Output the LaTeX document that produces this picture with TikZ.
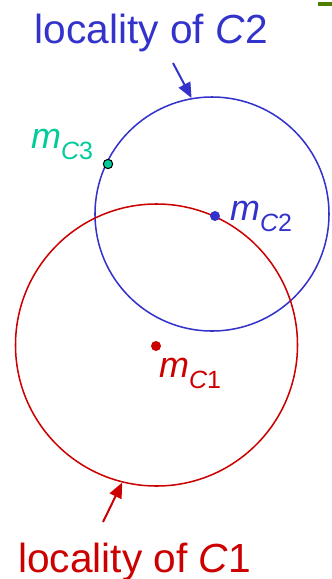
\documentclass[tikz,border=0pt]{standalone}
\usepackage{fontspec}
\setmainfont{Liberation Sans}
\usetikzlibrary{arrows.meta}
\definecolor{locblue}{RGB}{51,51,204}
\definecolor{locred}{RGB}{204,0,0}
\definecolor{locgreen}{RGB}{0,204,153}
\definecolor{bargreen}{RGB}{77,128,0}
\newcommand{\mlab}[1]{{\fontsize{30.7}{31}\selectfont\itshape m}\raisebox{-10pt}{\fontsize{21.3}{22}\selectfont\itshape C\upshape #1}}

\begin{document}
\begin{tikzpicture}[
    x=0.03cm, y=-0.03cm,
    locality/.style={draw, circle, inner sep=0pt, line width=1.3pt},
    centre/.style={circle, fill, inner sep=0pt, minimum size=0.3cm},
    title/.style={anchor=base west, inner sep=0pt, font=\fontsize{34.7}{36}\selectfont},
    mlabel/.style={anchor=base west, inner sep=0pt},
    pointer/.style={line width=1.7pt, -{Triangle[length=13pt, width=11pt]}}
]
\useasboundingbox (0,0) rectangle (332,579);
\fill[bargreen] (318,2) rectangle (332,6);
\node[locality, locblue, minimum size=7.02cm] (locC2) at (212,214) {};
\node[locality, locred, minimum size=8.46cm] (locC1) at (156.5,345) {};
\node[centre, locblue] (mC2) at (215,216) {};
\node[centre, locred] (mC1) at (156,346) {};
\node[centre, fill=locgreen, draw=black, line width=0.9pt, minimum size=0.28cm] (mC3) at (108,164) {};
\node[mlabel, locblue] (labC2) at (230,220) {\mlab{2}};
\node[mlabel, locred] (labC1) at (159,377) {\mlab{1}};
\node[mlabel, locgreen] (labC3) at (31,148) {\mlab{3}};
\node[title, locblue] (titleC2) at (34.5,43) {locality of \textit{C}2};
\node[title, locred] (titleC1) at (18,572) {locality of \textit{C}1};
\coordinate (tailC2) at (173,63);
\coordinate (tailC1) at (103,522);
\draw[pointer, locblue] (tailC2) -- (locC2.100);
\draw[pointer, locred] (tailC1) -- (locC1.256);
\end{tikzpicture}
\end{document}
